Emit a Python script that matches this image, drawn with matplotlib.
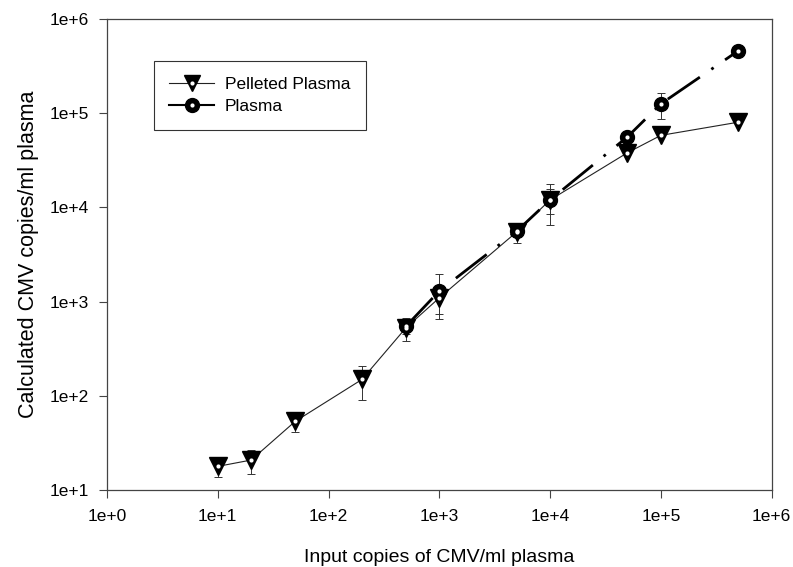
import numpy as np
import matplotlib
matplotlib.use("Agg")
import matplotlib.pyplot as plt
from matplotlib.lines import Line2D

plt.rcParams['font.family'] = ['Liberation Sans', 'DejaVu Sans']

# pelleted plasma series
pel_x = [10, 20, 50, 200, 500, 1000, 5000, 10000, 50000, 100000, 500000]
pel_y = [18, 21, 54, 150, 530, 1100, 5500, 12000, 38000, 58000, 80000]
pel_err = [4, 6, 12, 58, 150, 350, 1300, 5500, 0, 0, 0]

# plasma series
pla_x = [500, 1000, 5000, 10000, 50000, 100000, 500000]
pla_y = [550, 1300, 5600, 12000, 56000, 125000, 457000]
pla_err = [100, 650, 800, 3500, 0, 38000, 0]

tick_vals = [1e0, 1e1, 1e2, 1e3, 1e4, 1e5, 1e6]
x_labels = ['1e+0', '1e+1', '1e+2', '1e+3', '1e+4', '1e+5', '1e+6']
y_ticks = [1e1, 1e2, 1e3, 1e4, 1e5, 1e6]
y_labels = ['1e+1', '1e+2', '1e+3', '1e+4', '1e+5', '1e+6']

fig = plt.figure(figsize=(7.93, 5.67), dpi=100)
ax = fig.add_axes([0.135, 0.135, 0.838, 0.832])
ax.set_xscale('log')
ax.set_yscale('log')

# error bars
ax.errorbar(pel_x, pel_y, yerr=pel_err, fmt='none', ecolor='#333333',
            elinewidth=0.7, capsize=3, capthick=0.7, zorder=2)
ax.errorbar(pla_x, pla_y, yerr=pla_err, fmt='none', ecolor='#333333',
            elinewidth=0.7, capsize=3, capthick=0.7, zorder=2)

# lines
ax.plot(pel_x, pel_y, color='#222222', lw=0.8, zorder=3)
ax.plot(pla_x, pla_y, color='black', lw=2, linestyle=(0, (14, 5, 1, 5)), zorder=3)

# markers
ax.plot(pel_x, pel_y, 'v', ms=12.5, color='black', zorder=4)
ax.plot(pla_x, pla_y, 'o', ms=10, color='black', zorder=5)
ax.plot(pel_x, pel_y, 'o', ms=3, color='white', mec='none', zorder=6)
ax.plot(pla_x, pla_y, 'o', ms=3, color='white', mec='none', zorder=6)

ax.set_xlim(1, 1e6)
ax.set_ylim(10, 1e6)
ax.set_xticks(tick_vals)
ax.set_xticklabels(x_labels)
ax.set_yticks(y_ticks)
ax.set_yticklabels(y_labels)
ax.minorticks_off()
ax.tick_params(direction='out', length=6, width=0.8, color='#444444',
               labelsize=12.5, pad=7)
for s in ax.spines.values():
    s.set_color('#444444')
    s.set_linewidth(0.9)

ax.set_xlabel('Input copies of CMV/ml plasma', fontsize=14, labelpad=18)
ax.set_ylabel('Calculated CMV copies/ml plasma', fontsize=15.5, labelpad=8)

# legend with dotted markers
h1 = (Line2D([], [], color='#222222', lw=0.8, marker='v', ms=12, mfc='black', mec='black'),
      Line2D([], [], ls='none', marker='o', ms=3, mfc='white', mec='none'))
h2 = (Line2D([], [], color='black', lw=1.5, marker='o', ms=10, mfc='black', mec='black'),
      Line2D([], [], ls='none', marker='o', ms=3, mfc='white', mec='none'))
leg = ax.legend([h1, h2], ['Pelleted Plasma', 'Plasma'], loc='upper left',
                bbox_to_anchor=(0.07, 0.91), fontsize=12.5, frameon=True,
                fancybox=False, edgecolor='black', handlelength=2.6,
                borderpad=0.9, labelspacing=0.4, handletextpad=0.6,
                borderaxespad=0)
leg.get_frame().set_linewidth(0.8)

fig.savefig('out.png', dpi=100)
